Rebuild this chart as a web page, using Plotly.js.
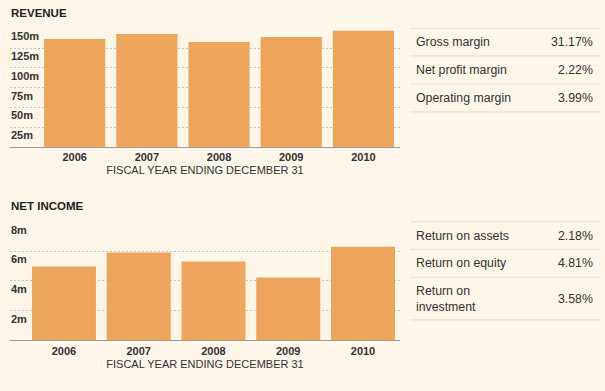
<!DOCTYPE html>
<html>
<head>
<meta charset="utf-8">
<script src="https://cdn.plot.ly/plotly-3.0.1.min.js"></script>
<style>
  html, body { margin: 0; padding: 0; background: #FEF6E9; }
  #chart { width: 605px; height: 391px; }
</style>
</head>
<body>
<div id="chart"></div>
<script>
// ---- data ----
const years = ['2006', '2007', '2008', '2009', '2010'];
const revenue = [136.4, 142.7, 132.6, 138.9, 146.8];      // millions
const netIncome = [4.97, 5.92, 5.31, 4.23, 6.30];         // millions
const revenueTicks = [25, 50, 75, 100, 125, 150];
const revenueTickText = ['25m', '50m', '75m', '100m', '125m', '150m'];
const incomeTicks = [2, 4, 6, 8];
const incomeTickText = ['2m', '4m', '6m', '8m'];
const marginNames = ['Gross margin', 'Net profit margin', 'Operating margin'];
const marginValues = ['31.17%', '2.22%', '3.99%'];
const returnNames = ['Return on assets', 'Return on equity', 'Return on<br>investment'];
const returnValues = ['2.18%', '4.81%', '3.58%'];

// ---- styling ----
const W = 605, H = 391;
const BG = '#FEF6E9';
const BAR = '#EDA55C';
const TXT = '#333333';
const FONT = 'Liberation Sans, Arial, sans-serif';
const py = p => 1 - p / H;   // pixel -> paper (y)
const px = p => p / W;       // pixel -> paper (x)

const traces = [
  { type: 'bar', x: years, y: revenue, xaxis: 'x', yaxis: 'y',
    marker: { color: BAR, line: { width: 0 } }, width: 0.847, hoverinfo: 'none' },
  { type: 'bar', x: years, y: netIncome, xaxis: 'x2', yaxis: 'y2',
    marker: { color: BAR, line: { width: 0 } }, width: 0.856, hoverinfo: 'none' }
];

const xCommon = {
  type: 'category', domain: [px(10), px(400)],
  showgrid: false, zeroline: false,
  showline: true, linecolor: '#A09A92', linewidth: 1,
  ticks: '', tickfont: { family: FONT, size: 11, color: TXT, weight: 'bold' },
  fixedrange: true
};
const yCommon = {
  showgrid: true, gridcolor: '#C9C3B9', griddash: '2px,2px', gridwidth: 1,
  zeroline: false, showline: false, ticks: '', showticklabels: false,
  fixedrange: true
};

const layout = {
  width: W, height: H,
  margin: { l: 0, r: 0, t: 0, b: 0 },
  paper_bgcolor: BG, plot_bgcolor: 'rgba(0,0,0,0)',
  showlegend: false,
  font: { family: FONT, color: TXT },
  xaxis: Object.assign({}, xCommon, {
    anchor: 'y', range: [-0.896, 4.507],
    title: { text: 'FISCAL YEAR ENDING DECEMBER 31', font: { family: FONT, size: 11, color: TXT }, standoff: 4 }
  }),
  yaxis: Object.assign({}, yCommon, {
    anchor: 'x', domain: [py(147), py(28.2)], range: [0, 150],
    tickvals: revenueTicks, ticktext: revenueTickText
  }),
  xaxis2: Object.assign({}, xCommon, {
    anchor: 'y2', range: [-0.722, 4.495],
    title: { text: 'FISCAL YEAR ENDING DECEMBER 31', font: { family: FONT, size: 11, color: TXT }, standoff: 4 }
  }),
  yaxis2: Object.assign({}, yCommon, {
    anchor: 'x2', domain: [py(340.3), py(221.5)], range: [0, 8],
    tickvals: incomeTicks, ticktext: incomeTickText
  }),
  shapes: [],
  annotations: [
    { text: 'REVENUE', xref: 'paper', yref: 'paper', x: px(9), y: py(12.7),
      xanchor: 'left', yanchor: 'middle', showarrow: false,
      font: { family: FONT, size: 11.5, color: '#222', weight: 'bold' } },
    { text: 'NET INCOME', xref: 'paper', yref: 'paper', x: px(9), y: py(205.7),
      xanchor: 'left', yanchor: 'middle', showarrow: false,
      font: { family: FONT, size: 11.5, color: '#222', weight: 'bold' } }
  ]
};

// ---- y tick labels: left-aligned, sitting just below each gridline ----
function addYLabels(vals, texts, yref) {
  vals.forEach((v, i) => layout.annotations.push({
    text: texts[i], xref: 'paper', yref: yref, x: px(9), y: v, yshift: -8,
    xanchor: 'left', yanchor: 'middle', showarrow: false,
    font: { family: FONT, size: 11, color: TXT, weight: 'bold' }
  }));
}
addYLabels(revenueTicks, revenueTickText, 'y');
addYLabels(incomeTicks, incomeTickText, 'y2');

// ---- side tables ----
function addTable(names, values, lines) {
  lines.forEach(l => layout.shapes.push({
    type: 'line', xref: 'paper', yref: 'paper',
    x0: px(410), x1: px(600), y0: py(l), y1: py(l),
    line: { color: '#E9DFCF', width: 1 }
  }));
  names.forEach((n, i) => {
    const yc = (lines[i] + lines[i + 1]) / 2;
    layout.annotations.push({
      text: n, xref: 'paper', yref: 'paper', x: px(414), y: py(yc),
      xanchor: 'left', yanchor: 'middle', align: 'left', showarrow: false,
      font: { family: FONT, size: 12.3, color: TXT }
    });
    layout.annotations.push({
      text: values[i], xref: 'paper', yref: 'paper', x: px(595), y: py(yc),
      xanchor: 'right', yanchor: 'middle', align: 'right', showarrow: false,
      font: { family: FONT, size: 12.3, color: TXT }
    });
  });
}
addTable(marginNames, marginValues, [28.3, 56, 84, 112]);
addTable(returnNames, returnValues, [221.7, 249.3, 277.3, 320]);

Plotly.newPlot('chart', traces, layout, { staticPlot: true, displayModeBar: false });
</script>
</body>
</html>
